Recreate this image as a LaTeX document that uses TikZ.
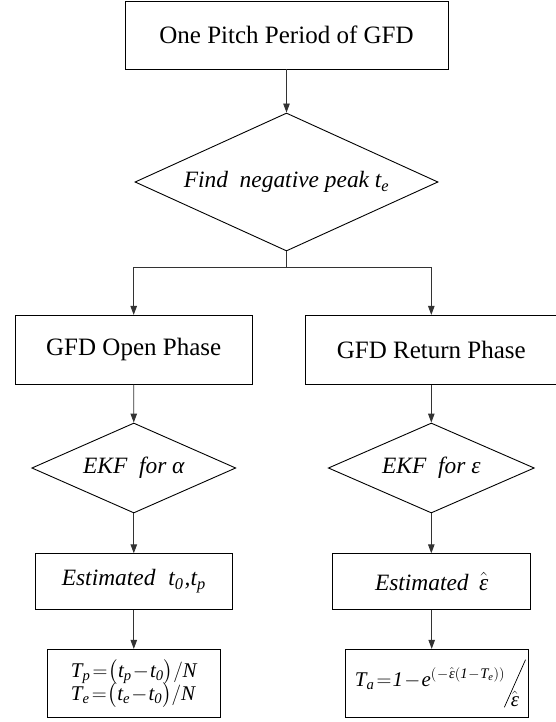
\documentclass[tikz,border=0pt]{standalone}
\usepackage{amsmath}
\usepackage{fontspec}
\setmainfont{Liberation Serif}
\usetikzlibrary{shapes.geometric,arrows.meta}
% italic letters inside formulas, in the text face
\newcommand\iv[1]{\text{\itshape #1}}
\newcommand\eqs{\mkern2mu{=}\mkern1mu}
\newcommand\mns{\mkern1mu{-}\mkern1mu}
\begin{document}
\begin{tikzpicture}[x=1bp,y=-1bp,
  box/.style={draw=black, line width=0.9bp, rectangle, inner sep=0pt,
    font=\fontsize{25.1}{30}\selectfont},
  ibox/.style={box, font=\fontsize{23.5}{28}\selectfont\itshape},
  fbox/.style={box, font=\fontsize{21}{26}\selectfont},
  dec/.style={draw=black, line width=0.9bp, diamond, inner sep=0pt,
    font=\fontsize{23.5}{28}\selectfont\itshape},
  flow/.style={draw=black!80, line width=0.9bp,
    -{Triangle[length=9bp,width=6.5bp]}},
  link/.style={draw=black!80, line width=0.9bp}]
\clip (0,0) rectangle (556,722);

% top of the chart
\node[box, minimum width=323bp, minimum height=68bp] (pitch) at (286.5,35)
  {One Pitch Period of GFD};
\node[dec, aspect=2.2, minimum width=303bp, minimum height=138bp] (peak) at (286.5,182)
  {Find\hspace{0.25em} negative peak t\textsubscript{e}};

% the two phases
\node[box, minimum width=237.3bp, minimum height=68.7bp] (open) at (133.7,349.7)
  {GFD Open Phase};
\node[box, minimum width=252.6bp, minimum height=68.7bp] (ret) at (431.3,349.7)
  {GFD Return Phase};

% estimation by EKF
\node[dec, aspect=2.27, minimum width=204bp, minimum height=90bp] (ekfa) at (133.8,468)
  {EKF\hspace{0.25em} for α};
\node[dec, aspect=2.27, minimum width=206bp, minimum height=90bp] (ekfe) at (431.3,468)
  {EKF\hspace{0.25em} for ε};

\node[ibox, minimum width=197bp, minimum height=55.3bp] (esta) at (133.8,581.4)
  {Estimated\hspace{0.3em} t\textsubscript{0}\kern0.05em,t\textsubscript{p}};
\node[ibox, minimum width=198.3bp, minimum height=55.3bp] (este) at (431.7,581.4)
  {Estimated\hspace{0.2em} $\hat{\iv{ε}}$};

% resulting parameters
\node[fbox, minimum width=173bp, minimum height=68.4bp, align=left] (fra) at (133.8,683.5)
  {$\iv{T}_{\iv{p}} \eqs \bigl(\iv{t}_{\iv{p}} \mns \iv{t}_{\iv{0}}\bigr) / \iv{N}$\\[-3bp]
   $\iv{T}_{\iv{e}} \eqs \bigl(\iv{t}_{\iv{e}} \mns \iv{t}_{\iv{0}}\bigr) / \iv{N}$};
\node[box, font=\fontsize{21}{25}\selectfont, minimum width=182.7bp, minimum height=68.4bp]
  (fre) at (437,683.5)
  {\raisebox{7bp}{$\iv{T}_{\iv{a}} \eqs \iv{1} \mns \iv{e}^{\left(\mns\hat{\iv{ε}}\left(\iv{1}\mns\iv{T}_{\iv{e}}\right)\right)}$}%
   \hspace{-1bp}\raisebox{-14bp}{\rotatebox{-24}{\rule{0.7bp}{52bp}}}%
   \hspace{-15bp}\raisebox{-13bp}{$\hat{\iv{ε}}$}\hspace{8bp}};

% connectors
\draw[flow] (pitch) -- (peak);
\draw[link] (peak.south) -- ++(0,15.7) coordinate (split);
\draw[flow] (split) -| (open.north);
\draw[flow] (split) -| (ret.north);
\draw[flow] (open) -- (ekfa);
\draw[flow] (ret) -- (ekfe);
\draw[flow] (ekfa) -- (esta);
\draw[flow] (ekfe.south) -- (ekfe.south |- este.north);
\draw[flow] (esta) -- (fra);
\draw[flow] (este.south) -- (este.south |- fre.north);
\end{tikzpicture}
\end{document}
